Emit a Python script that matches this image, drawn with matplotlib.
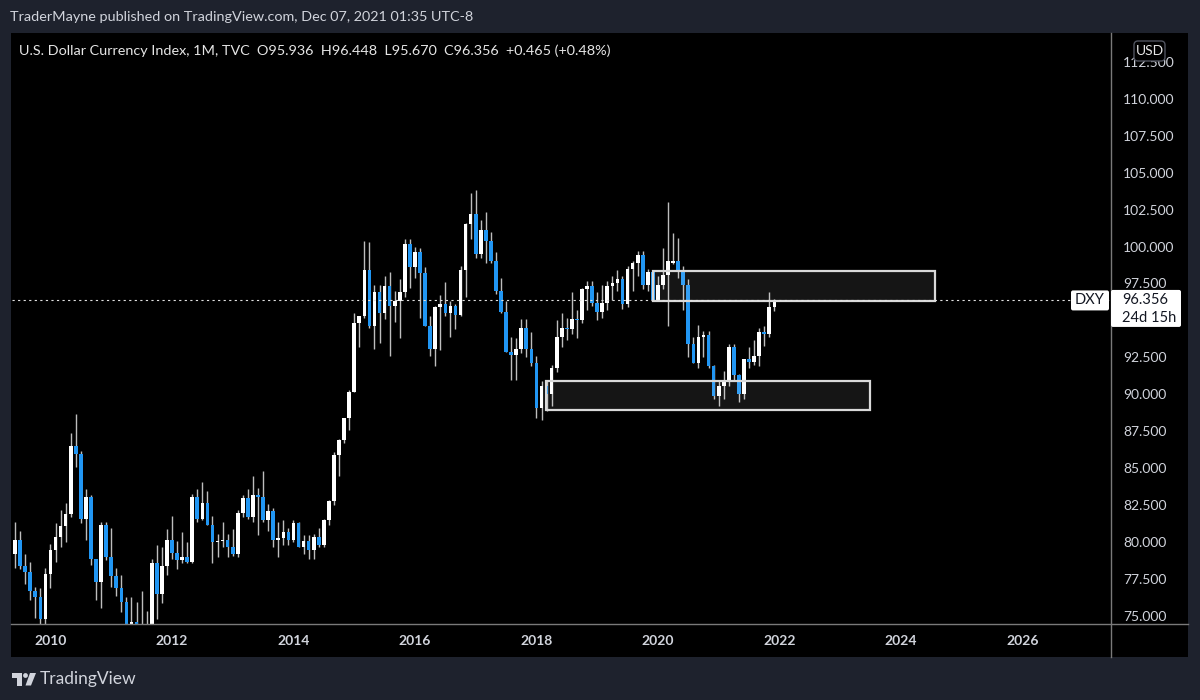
import numpy as np
import pandas as pd
import matplotlib
matplotlib.use("Agg")
import matplotlib.pyplot as plt
import matplotlib.transforms as mtransforms
from matplotlib.patches import Rectangle, FancyBboxPatch, Circle, Polygon
from matplotlib.lines import Line2D

plt.rcParams['font.family'] = ['Lato', 'DejaVu Sans']

# DXY monthly candles, May 2009 .. Dec 2021
first_month = '2009-05-01'
opens = [
    84.1, 79.2, 80.2, 78.4, 78.0, 76.7, 76.3, 74.8,
    77.9, 79.5, 80.4, 81.1, 81.9, 86.5, 86.0, 81.6, 83.1, 78.9, 77.3, 81.2,
    79.0, 77.7, 76.9, 76.0, 72.9, 74.6, 74.3, 74.0, 74.2, 78.6, 76.5, 78.4,
    80.2, 79.3, 78.8, 79.0, 78.7, 83.1, 81.6, 82.7, 81.2, 80.0, 80.1, 80.2,
    79.7, 79.2, 82.0, 83.0, 81.7, 83.2, 83.1, 81.5, 82.1, 80.2, 80.3, 80.7,
    80.2, 81.3, 79.7, 80.1, 79.5, 80.4, 79.8, 81.5, 82.8, 85.9, 86.9, 88.4,
    90.2, 94.8, 95.3, 98.4, 94.6, 96.9, 95.5, 97.3, 96.0, 96.3, 96.9, 100.2,
    98.6, 99.6, 98.2, 94.6, 93.1, 95.9, 96.1, 95.5, 96.0, 95.4, 98.4, 101.5,
    102.2, 99.5, 101.1, 100.4, 99.0, 97.0, 95.6, 92.9, 92.7, 93.1, 94.5, 93.1,
    92.1, 89.1, 90.6, 90.0, 91.8, 93.9, 94.5, 94.4, 95.1, 95.0, 97.1, 97.3,
    96.2, 95.6, 96.2, 97.3, 97.5, 97.8, 96.1, 98.5, 98.9, 99.4, 97.4, 98.3,
    96.4, 97.4, 98.1, 98.9, 99.0, 98.3, 97.4, 93.4, 92.1, 93.9, 94.0, 91.9,
    89.9, 90.6, 90.9, 93.2, 91.3, 90.0, 92.4, 92.2, 92.6, 94.2, 94.1, 95.936,
]
highs = [
    84.8, 81.4, 80.8, 79.2, 78.7, 77.0, 76.9, 78.3,
    79.9, 81.3, 82.2, 82.7, 87.4, 88.7, 86.2, 83.6, 83.2, 78.9, 81.4, 81.4,
    81.0, 78.3, 77.8, 76.3, 76.3, 76.0, 76.7, 75.4, 78.9, 79.8, 79.7, 80.9,
    81.8, 80.1, 80.7, 80.0, 83.3, 83.6, 84.1, 83.5, 81.8, 80.6, 81.4, 80.6,
    80.9, 82.2, 83.2, 83.6, 84.5, 83.7, 84.8, 82.6, 82.3, 81.4, 81.5, 81.0,
    81.5, 81.4, 80.5, 80.5, 80.6, 81.0, 81.6, 82.9, 86.1, 87.0, 88.4, 90.3,
    95.5, 95.3, 100.4, 100.3, 97.4, 97.4, 98.0, 98.3, 97.0, 97.8, 100.5, 100.5,
    100.0, 99.9, 98.6, 95.3, 96.0, 96.7, 97.6, 96.3, 96.1, 98.7, 101.6, 103.6,
    103.8, 101.8, 102.3, 101.0, 99.6, 97.9, 96.3, 93.9, 93.8, 95.1, 95.1, 94.2,
    92.6, 90.9, 90.9, 92.0, 95.0, 95.5, 95.2, 96.9, 95.7, 97.2, 97.7, 97.7,
    96.9, 97.4, 97.7, 98.0, 98.4, 98.0, 98.7, 99.0, 99.7, 99.7, 98.5, 98.4,
    98.0, 99.9, 103.0, 100.9, 100.6, 98.7, 97.8, 93.9, 94.7, 94.3, 94.3, 92.0,
    91.0, 91.6, 93.4, 93.4, 91.4, 92.4, 93.2, 93.7, 94.5, 94.6, 96.9, 96.448,
]
lows = [
    78.8, 78.3, 78.2, 77.2, 76.1, 74.9, 74.2, 74.3,
    76.9, 78.7, 79.7, 80.0, 81.7, 85.1, 81.3, 80.2, 78.5, 76.1, 75.6, 78.8,
    77.0, 76.4, 75.3, 72.8, 72.7, 73.5, 73.4, 73.4, 73.6, 74.8, 75.9, 77.8,
    78.9, 78.2, 78.6, 78.6, 78.6, 81.4, 81.5, 81.2, 78.6, 79.0, 79.7, 79.0,
    79.1, 79.0, 81.7, 81.6, 81.4, 80.5, 81.4, 80.8, 79.7, 79.0, 79.8, 79.8,
    80.0, 79.7, 79.2, 78.9, 78.9, 79.7, 79.7, 81.2, 82.5, 84.5, 86.7, 87.6,
    90.2, 93.2, 95.2, 94.5, 93.1, 93.5, 95.1, 92.6, 94.9, 93.8, 96.6, 97.2,
    97.9, 95.2, 94.6, 92.6, 91.9, 93.0, 95.3, 93.9, 94.4, 95.3, 96.6, 100.5,
    99.2, 99.2, 98.9, 98.9, 96.8, 95.5, 92.9, 91.0, 91.0, 92.8, 92.5, 91.9,
    88.4, 88.3, 88.9, 89.2, 91.5, 93.2, 93.7, 94.1, 93.8, 94.8, 95.7, 96.0,
    95.0, 95.2, 95.7, 96.4, 97.0, 95.8, 95.9, 97.0, 98.0, 97.1, 97.0, 96.4,
    96.4, 97.1, 94.6, 98.8, 97.9, 95.7, 92.5, 92.1, 91.8, 92.5, 91.8, 89.7,
    89.2, 89.7, 90.6, 90.9, 89.5, 89.7, 91.8, 92.0, 91.9, 93.3, 93.9, 95.670,
]
closes = [
    79.2, 80.2, 78.4, 78.0, 76.7, 76.3, 74.8, 77.9,
    79.5, 80.4, 81.1, 81.9, 86.5, 86.0, 81.6, 83.1, 78.9, 77.3, 81.2, 79.0,
    77.7, 76.9, 76.0, 72.9, 74.6, 74.3, 74.0, 74.2, 78.6, 76.5, 78.4, 80.2,
    79.3, 78.8, 79.0, 78.7, 83.1, 81.6, 82.7, 81.2, 80.0, 80.1, 80.2, 79.7,
    79.2, 82.0, 83.0, 81.7, 83.2, 83.1, 81.5, 82.1, 80.2, 80.3, 80.7, 80.2,
    81.3, 79.7, 80.1, 79.5, 80.4, 79.8, 81.5, 82.8, 85.9, 86.9, 88.4, 90.2,
    94.8, 95.3, 98.4, 94.6, 96.9, 95.5, 97.3, 96.0, 96.3, 96.9, 100.2, 98.6,
    99.6, 98.2, 94.6, 93.1, 95.9, 96.1, 95.5, 96.0, 95.4, 98.4, 101.5, 102.2,
    99.5, 101.1, 100.4, 99.0, 97.0, 95.6, 92.9, 92.7, 93.1, 94.5, 93.1, 92.1,
    89.1, 90.6, 90.0, 91.8, 93.9, 94.5, 94.4, 95.1, 95.0, 97.1, 97.3, 96.2,
    95.6, 96.2, 97.3, 97.5, 97.8, 96.1, 98.5, 98.9, 99.4, 97.4, 98.3, 96.4,
    97.4, 98.1, 99.0, 99.0, 98.3, 97.4, 93.4, 92.1, 93.9, 94.0, 91.9, 89.9,
    90.6, 90.9, 93.2, 91.3, 90.0, 92.4, 92.2, 92.6, 94.2, 94.1, 95.9, 96.356,
]
last_price = 96.356
year_labels = ['2010', '2012', '2014', '2016', '2018', '2020', '2022', '2024', '2026']
price_ticks = [75.0, 77.5, 80.0, 82.5, 85.0, 87.5, 90.0, 92.5, 95.0,
               97.5, 100.0, 102.5, 105.0, 107.5, 110.0, 112.5]
hidden_ticks = [95.0]  # covered by the price label in the reference
# drawn zones: (start date, end date, low, high)
zones = [('2019-12-01', '2024-07-22', 96.31, 98.34),
         ('2018-02-28', '2023-06-28', 88.95, 90.92)]

header = "TraderMayne published on TradingView.com, Dec 07, 2021 01:35 UTC-8"
legend = ("U.S. Dollar Currency Index, 1M, TVC  O95.936  H96.448  "
          "L95.670  C96.356  +0.465 (+0.48%)")

BG = '#1e222d'
TXT = '#d1d4dc'
UP = '#ffffff'
DOWN = '#2196f3'
WICK = '#bdbdbd'

o = np.array(opens)
h = np.array(highs)
l = np.array(lows)
c = np.array(closes)
dates = pd.date_range(first_month, periods=len(c), freq='MS')
x = (dates.year - 2010) * 12 + dates.month - 1


def month_pos(s):
    d = pd.Timestamp(s)
    return (d.year - 2010) * 12 + d.month - 1 + (d.day - 1) / d.days_in_month


fig = plt.figure(figsize=(12, 7), dpi=100, facecolor=BG)
# pixel coordinates with origin top-left
tpx = mtransforms.Affine2D().scale(1, -1).translate(0, 700)

fig.add_artist(Rectangle((11, 33), 1177, 624, transform=tpx,
                         facecolor='black', edgecolor='none', zorder=0))

ax = fig.add_axes([12 / 1200, 76 / 700, 1099 / 1200, 590 / 700])
ax.set_facecolor('black')
for s in ax.spines.values():
    s.set_visible(False)

# candles
ax.vlines(x, l, h, color=WICK, lw=1, zorder=2)
up = c >= o
bottom = np.minimum(o, c)
height = np.maximum(np.abs(c - o), 0.08)
ax.bar(x[up], height[up], bottom=bottom[up], width=0.72, color=UP, lw=0, zorder=3)
ax.bar(x[~up], height[~up], bottom=bottom[~up], width=0.72, color=DOWN, lw=0, zorder=3)

for start, end, lo, hi in zones:
    x0 = month_pos(start)
    x1 = month_pos(end)
    ax.add_patch(Rectangle((x0, lo), x1 - x0, hi - lo, facecolor=(1, 1, 1, 0.085),
                           edgecolor='#d9d9d9', lw=1.6, zorder=4))

ax.axhline(last_price, color='#e0e0e0', lw=0.8, ls=(0, (2, 3)), zorder=5)

ax.set_xlim(-7.6, 209.5)
ax.set_ylim(74.49, 114.36)

ax.yaxis.tick_right()
ax.set_yticks(price_ticks)
ax.set_yticklabels(['' if v in hidden_ticks else f"{v:.3f}" for v in price_ticks])
ax.tick_params(axis='y', length=0, pad=8.6, labelcolor=TXT, labelsize=10)
ax.set_xticks(range(0, 24 * len(year_labels), 24))
ax.set_xticklabels(year_labels, fontweight='bold')
ax.tick_params(axis='x', length=0, pad=8, labelcolor=TXT, labelsize=10)

# axis separators
fig.add_artist(Line2D([1111, 1111], [33, 657], transform=tpx, color='#7a7a7a', lw=1))
fig.add_artist(Line2D([11, 1188], [624, 624], transform=tpx, color='#7a7a7a', lw=1))

# price labels on the right
py = 700 - ax.transData.transform((0, last_price))[1]
fig.add_artist(FancyBboxPatch((1071, py - 10), 38, 20, transform=tpx,
                              boxstyle='round,pad=0,rounding_size=2',
                              facecolor='white', edgecolor='none', zorder=6))
fig.text(1090, py, 'DXY', transform=tpx, ha='center', va='center',
         color='#131722', fontsize=10.5, zorder=7)
fig.add_artist(FancyBboxPatch((1111, py - 10.5), 70, 37, transform=tpx,
                              boxstyle='round,pad=0,rounding_size=2',
                              facecolor='white', edgecolor='none', zorder=6))
fig.text(1122, py, f"{last_price:.3f}", transform=tpx, ha='left', va='center',
         color='#131722', fontsize=10.5, zorder=7)
fig.text(1122, py + 18, '24d 15h', transform=tpx, ha='left', va='center',
         color='#131722', fontsize=10.5, zorder=7)

# currency badge
fig.add_artist(FancyBboxPatch((1134, 41), 31, 20, transform=tpx,
                              boxstyle='round,pad=0,rounding_size=4',
                              facecolor='black', edgecolor='#50535e', lw=1, zorder=6))
fig.text(1149.5, 51, 'USD', transform=tpx, ha='center', va='center',
         color='#e8e8e8', fontsize=10, zorder=7)

# texts
fig.text(10, 17, header, transform=tpx, ha='left', va='center', color=TXT, fontsize=10.35)
fig.text(19, 51, legend, transform=tpx, ha='left', va='center', color='#e6e6e6', fontsize=10.35)

# footer logo
fig.add_artist(Rectangle((12, 673), 10, 4.5, transform=tpx, facecolor=TXT, edgecolor='none'))
fig.add_artist(Rectangle((17, 673), 5, 12.5, transform=tpx, facecolor=TXT, edgecolor='none'))
fig.add_artist(Circle((25.5, 675.5), 2.4, transform=tpx, facecolor=TXT, edgecolor='none'))
fig.add_artist(Polygon([(30, 673), (36, 673), (31, 685.5), (25.5, 685.5)], closed=True,
                       transform=tpx, facecolor=TXT, edgecolor='none'))
fig.text(40, 679, 'TradingView', transform=tpx, ha='left', va='center', color=TXT, fontsize=12.5)

fig.savefig('out.png', dpi=100, facecolor=BG)
